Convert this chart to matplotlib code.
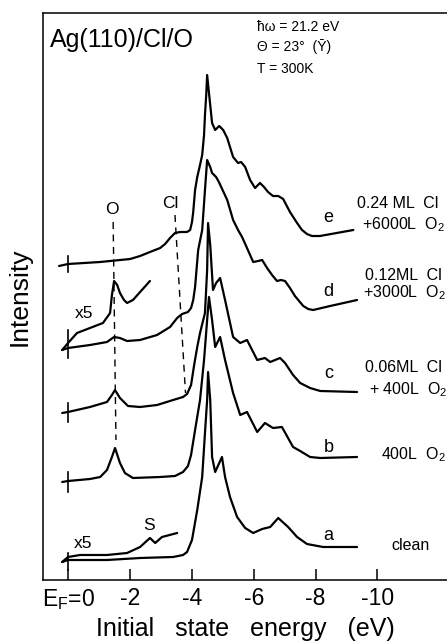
import matplotlib
matplotlib.use("Agg")
import matplotlib.pyplot as plt

plt.rcParams['font.family'] = ['Liberation Sans', 'DejaVu Sans']
plt.rcParams['mathtext.default'] = 'regular'

# ---------------- data (energy in eV, intensity in arbitrary units) ----------------
e_E = [0.30, 0.01, -1.03, -2.00, -2.32, -2.64, -2.97, -3.13, -3.29, -3.45, -3.61, -3.84, -3.94,
       -4.00, -4.04, -4.10, -4.17, -4.26, -4.33, -4.39, -4.42, -4.46, -4.49, -4.55, -4.65, -4.75,
       -4.88, -5.01, -5.14, -5.33, -5.49, -5.59, -5.72, -5.88, -6.04, -6.20, -6.33, -6.46, -6.62,
       -6.79, -6.95, -7.17, -7.40, -7.56, -7.72, -7.88, -8.14, -9.22]
e_I = [314, 316, 318, 321, 324, 328, 332, 336, 342, 347, 348, 348, 350,
       358, 368, 390, 403, 415, 425, 445, 465, 485, 505, 487, 457, 450,
       454, 450, 442, 423, 417, 418, 413, 400, 392, 397, 393, 388, 384,
       384, 381, 368, 357, 350, 346, 344, 344, 350]

d_E = [0.20, 0.01, -0.70, -1.25, -1.48, -1.67, -1.90, -2.32, -2.87, -3.29, -3.52, -3.68, -3.87,
       -3.97, -4.04, -4.10, -4.20, -4.33, -4.42, -4.49, -4.59, -4.65, -4.78, -4.87, -5.14, -5.33,
       -5.49, -5.62, -5.78, -5.98, -6.14, -6.27, -6.43, -6.59, -6.75, -6.88, -7.01, -7.17, -7.33,
       -7.60, -7.76, -7.92, -8.47, -9.34]
d_I = [230, 232, 235, 238, 243, 242, 239, 240, 245, 253, 262, 266, 268,
       272, 280, 293, 330, 350, 390, 420, 413, 407, 403, 398, 380, 360,
       350, 343, 332, 318, 319, 320, 312, 305, 299, 300, 299, 292, 284,
       274, 271, 270, 274, 280]

d5_E = [0.20, 0.01, -0.28, -0.70, -1.12, -1.35, -1.41, -1.48, -1.58, -1.67, -1.80, -1.90, -2.09, -2.64]
d5_I = [230, 237, 247, 252, 257, 267, 285, 299, 295, 287, 280, 277, 280, 299]

c_E = [0.20, 0.01, -0.70, -1.25, -1.41, -1.51, -1.67, -1.93, -2.32, -2.87, -3.39, -3.71, -3.84,
       -3.97, -4.07, -4.17, -4.26, -4.42, -4.49, -4.52, -4.59, -4.65, -4.68, -4.78, -4.91, -5.07,
       -5.33, -5.56, -5.78, -6.11, -6.36, -6.53, -6.85, -7.01, -7.27, -7.50, -7.82, -8.15, -9.34]
c_I = [167, 168, 173, 178, 185, 190, 182, 174, 173, 175, 180, 183, 186,
       195, 215, 233, 247, 267, 310, 357, 335, 305, 290, 297, 302, 280,
       243, 237, 240, 220, 222, 218, 222, 217, 205, 197, 192, 189, 188]

b_E = [0.20, 0.01, -0.70, -1.03, -1.25, -1.41, -1.51, -1.67, -1.83, -2.09, -2.97, -3.45, -3.71,
       -3.87, -3.97, -4.10, -4.26, -4.39, -4.49, -4.55, -4.65, -4.75, -4.91, -5.07, -5.33, -5.56,
       -5.78, -6.11, -6.36, -6.62, -6.91, -7.27, -7.50, -7.82, -8.15, -9.34]
b_I = [98, 99, 101, 103, 110, 123, 132, 117, 107, 102, 103, 104, 108,
       114, 125, 150, 180, 220, 260, 283, 260, 233, 243, 220, 187, 165,
       168, 148, 157, 152, 153, 133, 129, 123, 122, 123]

a_E = [0.20, 0.01, -1.25, -2.32, -3.39, -3.71, -3.84, -4.00, -4.17, -4.33, -4.42, -4.49, -4.52,
       -4.59, -4.65, -4.75, -4.97, -5.07, -5.23, -5.46, -5.72, -5.98, -6.27, -6.53, -6.79, -7.11,
       -7.40, -7.72, -8.24, -9.34]
a_I = [18, 20, 20, 22, 23, 25, 28, 40, 70, 103, 147, 180, 208,
       180, 123, 108, 123, 103, 83, 63, 52, 47, 51, 53, 62, 53,
       43, 36, 33, 33]

a5_E = [0.20, 0.01, -0.38, -1.25, -1.90, -2.32, -2.64, -2.81, -3.03, -3.52]
a5_I = [18, 23, 25, 25, 27, 33, 42, 37, 43, 47]

# zero-energy marks on each spectrum (intensity range)
zero_marks = [(308, 324), (222, 250), (158, 177), (88, 108), (10, 27)]

# guide lines (energy, intensity) pairs
O_line_E = [-1.45, -1.54]
O_line_I = [358, 140]
Cl_line_E = [-3.45, -3.79]
Cl_line_I = [365, 187]

xticks = [0, -2, -4, -6, -8, -10]
xticklabels = ['E$_F$=0', '-2', '-4', '-6', '-8', '-10']

# ---------------- figure ----------------
W, H = 447, 643
fig = plt.figure(figsize=(W / 100, H / 100), dpi=100)
ax = fig.add_axes([43 / W, 63 / H, 1 - 43 / W, 567 / H])
ax.set_xlim(0.82, -12.25)
ax.set_ylim(0, 567)

lw = 1.6
k = 'black'
for E, I in [(e_E, e_I), (d_E, d_I), (d5_E, d5_I), (c_E, c_I), (b_E, b_I), (a_E, a_I), (a5_E, a5_I)]:
    ax.plot(E, I, color=k, lw=lw, solid_joinstyle='round', solid_capstyle='round')

for lo, hi in zero_marks:
    ax.plot([0, 0], [lo, hi], color=k, lw=1.2)

ax.plot(O_line_E, O_line_I, color=k, lw=1.0, dashes=(5, 4))
ax.plot(Cl_line_E, Cl_line_I, color=k, lw=1.0, dashes=(5, 4))

# axes styling
ax.spines['right'].set_visible(False)
for s in ['left', 'top', 'bottom']:
    ax.spines[s].set_linewidth(1.1)
ax.set_yticks([])
ax.set_xticks(xticks)
ax.set_xticklabels(xticklabels, fontsize=16.5)
ax.tick_params(axis='x', direction='in', length=8, width=1.1, pad=5)
ax.set_xlabel('Initial   state   energy   (eV)', fontsize=18, labelpad=4)
ax.set_ylabel('Intensity', fontsize=19, labelpad=8)

# annotations
ax.text(0.59, 540, 'Ag(110)/Cl/O', fontsize=18, ha='left', va='center')
ax.text(-6.11, 553, 'ħω = 21.2 eV', fontsize=10, ha='left', va='center')
ax.text(-6.11, 533, 'Θ = 23°  (Ȳ)', fontsize=10, ha='left', va='center')
ax.text(-6.11, 511, 'T = 300K', fontsize=10, ha='left', va='center')

ax.text(-1.42, 370, 'O', fontsize=12.5, ha='center', va='center')
ax.text(-3.29, 377, 'Cl', fontsize=12.5, ha='center', va='center')
ax.text(-0.51, 267, 'x5', fontsize=12.5, ha='center', va='center')
ax.text(-0.48, 36, 'x5', fontsize=12.5, ha='center', va='center')
ax.text(-2.62, 54, 'S', fontsize=12.5, ha='center', va='center')

fs = 11.5
for lab, I in [('e', 362), ('d', 288), ('c', 207), ('b', 133), ('a', 45)]:
    ax.text(-8.42, I, lab, fontsize=13, ha='center', va='center')

ax.text(-10.67, 377, '0.24 ML  Cl', fontsize=fs, ha='center', va='center')
ax.text(-10.83, 355, '+6000L  O$_2$', fontsize=fs, ha='center', va='center')
ax.text(-10.83, 305, '0.12ML  Cl', fontsize=fs, ha='center', va='center')
ax.text(-10.86, 287, '+3000L  O$_2$', fontsize=fs, ha='center', va='center')
ax.text(-10.83, 212, '0.06ML  Cl', fontsize=fs, ha='center', va='center')
ax.text(-10.99, 190, '+ 400L  O$_2$', fontsize=fs, ha='center', va='center')
ax.text(-11.16, 125, '400L  O$_2$', fontsize=fs, ha='center', va='center')
ax.text(-11.06, 35, 'clean', fontsize=fs, ha='center', va='center')

fig.savefig('out.png', dpi=100)
